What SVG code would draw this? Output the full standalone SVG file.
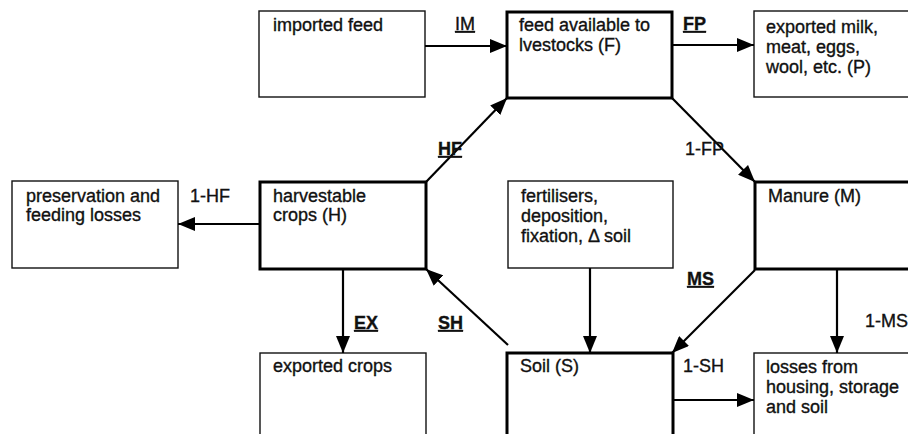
<svg xmlns="http://www.w3.org/2000/svg" width="908" height="434" viewBox="0 0 908 434">
<defs>
<marker id="ah" viewBox="0 0 17 14" refX="17" refY="7" markerWidth="17" markerHeight="14" markerUnits="userSpaceOnUse" orient="auto">
<path d="M0,0 L17,7 L0,14 z" fill="#000"/>
</marker>
</defs>
<style>
text{font-family:"Liberation Sans",Arial,sans-serif;font-size:18px;fill:#111;stroke:#111;stroke-width:0.35}
.thin{fill:#fff;stroke:#111;stroke-width:1.4}
.thick{fill:#fff;stroke:#000;stroke-width:3}
.c{stroke:#000;stroke-width:2.2;fill:none;marker-end:url(#ah)}
.b{font-weight:bold;text-decoration:underline}
.u{text-decoration:underline}
</style>
<rect width="908" height="434" fill="#fff"/>
<g id="imported-feed"><rect class="thin" x="259" y="11" width="166" height="86"/><text x="273" y="31">imported feed</text></g>
<g id="feed-available"><rect class="thick" x="507" y="12" width="165" height="86"/><text x="519" y="31">feed available to</text><text x="519" y="51">lvestocks (F)</text></g>
<g id="exported-milk"><rect class="thin" x="754" y="11" width="170" height="86"/><text x="766" y="33">exported milk,</text><text x="766" y="53">meat, eggs,</text><text x="766" y="73">wool, etc. (P)</text></g>
<g id="preservation-losses"><rect class="thin" x="12" y="181" width="166" height="87"/><text x="26" y="202">preservation and</text><text x="26" y="221">feeding losses</text></g>
<g id="harvestable-crops"><rect class="thick" x="260" y="182" width="166" height="87"/><text x="273" y="202">harvestable</text><text x="273" y="221">crops (H)</text></g>
<g id="fertilisers"><rect class="thin" x="508" y="181" width="165" height="87"/><text x="521" y="202">fertilisers,</text><text x="521" y="222">deposition,</text><text x="521" y="242">fixation, Δ soil</text></g>
<g id="manure"><rect class="thick" x="755" y="182" width="170" height="87"/><text x="768" y="202">Manure (M)</text></g>
<g id="exported-crops"><rect class="thin" x="260" y="353" width="166" height="100"/><text x="273" y="372">exported crops</text></g>
<g id="soil"><rect class="thick" x="507" y="353" width="166" height="100"/><text x="520" y="372">Soil (S)</text></g>
<g id="losses"><rect class="thin" x="754" y="353" width="170" height="100"/><text x="766" y="373">losses from</text><text x="766" y="393">housing, storage</text><text x="766" y="413">and soil</text></g>
<g id="connectors">
<line class="c" x1="425" y1="46" x2="507" y2="46"/>
<line class="c" x1="672" y1="45" x2="754" y2="45"/>
<line class="c" x1="426" y1="182" x2="507" y2="98"/>
<line class="c" x1="672" y1="98" x2="755" y2="182"/>
<line class="c" x1="260" y1="224" x2="178" y2="224"/>
<line class="c" x1="343" y1="269" x2="343" y2="353"/>
<line class="c" x1="508" y1="345" x2="426" y2="269"/>
<line class="c" x1="590" y1="268" x2="590" y2="353"/>
<line class="c" x1="755" y1="270" x2="672" y2="353"/>
<line class="c" x1="837" y1="269" x2="837" y2="353"/>
<line class="c" x1="673" y1="400" x2="754" y2="400"/>
<text class="u" x="455" y="30">IM</text>
<text class="b" x="683" y="30">FP</text>
<text class="b" x="438" y="155">HF</text>
<text x="685" y="155">1-FP</text>
<text x="190" y="202">1-HF</text>
<text class="b" x="354" y="329">EX</text>
<text class="b" x="438" y="329">SH</text>
<text class="b" x="687" y="285">MS</text>
<text x="865" y="327">1-MS</text>
<text x="683" y="372">1-SH</text>
</g>
</svg>
